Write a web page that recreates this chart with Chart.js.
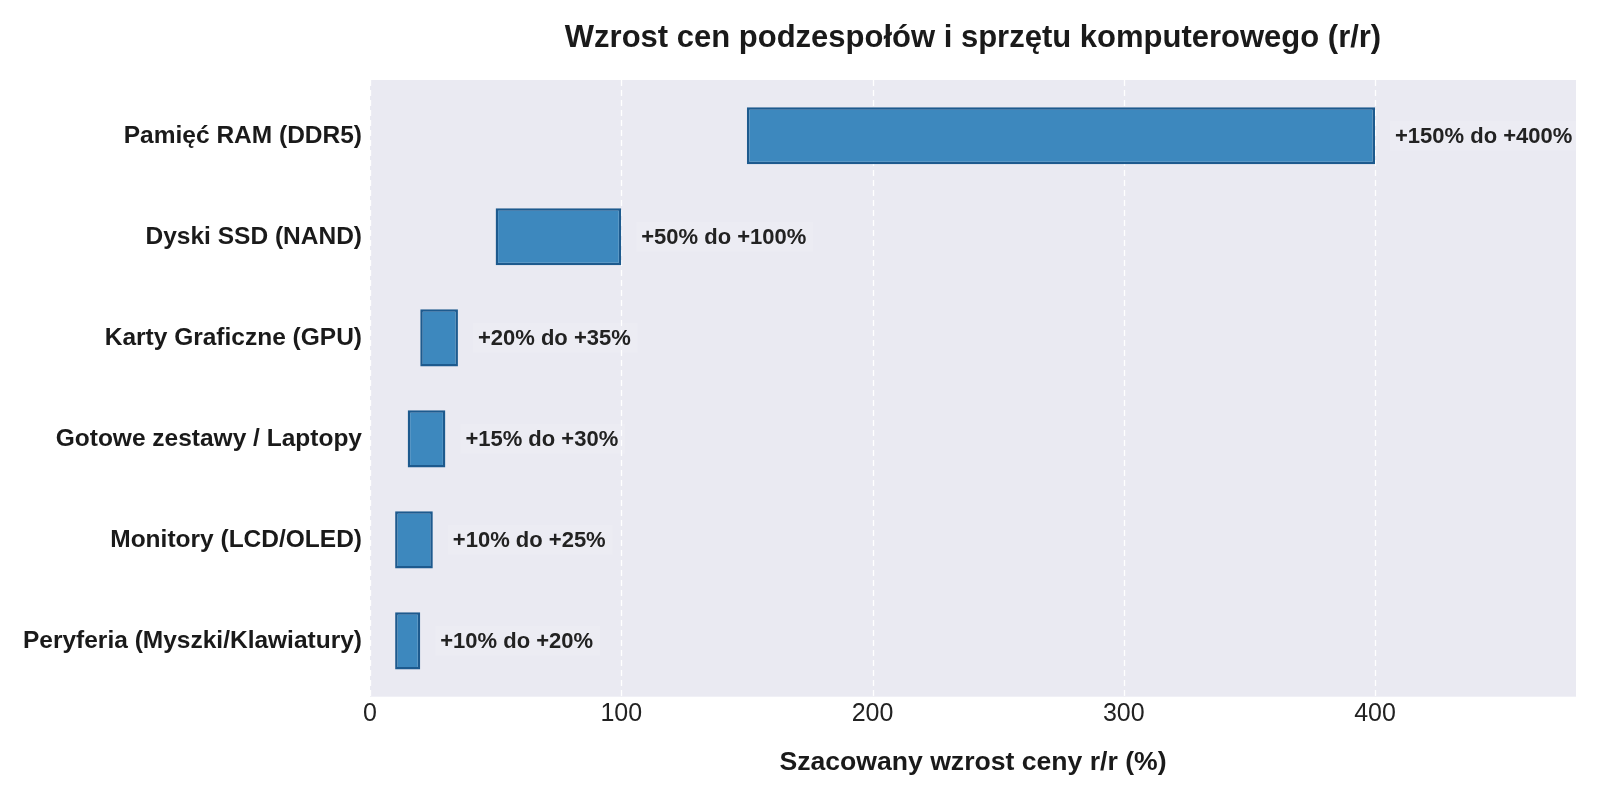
<!DOCTYPE html>
<html>
<head>
<meta charset="utf-8">
<script src="https://cdn.jsdelivr.net/npm/chart.js@4.4.0/dist/chart.umd.min.js"></script>
<style>
  html, body { margin: 0; padding: 0; background: #ffffff; }
  #wrap { width: 1600px; height: 800px; }
</style>
</head>
<body>
<div id="wrap"><canvas id="chart"></canvas></div>
<script>
// Dane z wykresu
const categories = [
  'Pamięć RAM (DDR5)',
  'Dyski SSD (NAND)',
  'Karty Graficzne (GPU)',
  'Gotowe zestawy / Laptopy',
  'Monitory (LCD/OLED)',
  'Peryferia (Myszki/Klawiatury)'
];
const minGrowth = [150, 50, 20, 15, 10, 10];
const maxGrowth = [400, 100, 35, 30, 25, 20];
const barLabels = [
  '+150% do +400%',
  '+50% do +100%',
  '+20% do +35%',
  '+15% do +30%',
  '+10% do +25%',
  '+10% do +20%'
];
const xTicks = [0, 100, 200, 300, 400];
const xMax = 480;

const FONT = '"Liberation Sans", Arial, sans-serif';
const PANEL_PAD = 5.3;   // margines tla ponad/ponizej kategorii
const LABEL_GAP = 20;    // odstep etykiety od konca slupka

// tlo panelu + przerywana siatka pionowa
const panelPlugin = {
  id: 'panel',
  beforeDatasetsDraw(chart) {
    const { ctx, chartArea: a, scales: { x } } = chart;
    const top = a.top - PANEL_PAD;
    const bottom = a.bottom + PANEL_PAD;
    ctx.save();
    ctx.fillStyle = '#eaeaf2';
    ctx.fillRect(a.left, top, a.right - a.left, bottom - top);
    ctx.strokeStyle = '#ffffff';
    ctx.lineWidth = 1.3;
    ctx.setLineDash([6, 4]);
    xTicks.forEach(v => {
      const px = Math.round(x.getPixelForValue(v)) + 0.5;
      ctx.beginPath();
      ctx.moveTo(px, top);
      ctx.lineTo(px, bottom);
      ctx.stroke();
    });
    ctx.restore();
  }
};

// etykiety zakresu przy koncu slupkow
const rangeLabelPlugin = {
  id: 'rangeLabels',
  afterDatasetsDraw(chart) {
    const { ctx } = chart;
    const meta = chart.getDatasetMeta(0);
    ctx.save();
    ctx.font = 'bold 22px ' + FONT;
    ctx.textBaseline = 'middle';
    ctx.textAlign = 'left';
    meta.data.forEach((bar, i) => {
      const x = Math.max(bar.x, bar.base) + LABEL_GAP;
      const w = ctx.measureText(barLabels[i]).width;
      ctx.fillStyle = 'rgba(255,255,255,0.1)';
      ctx.fillRect(x - 5, bar.y - 15, w + 12, 30);
      ctx.fillStyle = '#222222';
      ctx.fillText(barLabels[i], x, bar.y + 1);
    });
    ctx.restore();
  }
};

const ctx = document.getElementById('chart').getContext('2d');
new Chart(ctx, {
  type: 'bar',
  data: {
    labels: categories,
    datasets: [{
      data: categories.map((c, i) => [minGrowth[i], maxGrowth[i]]),
      backgroundColor: '#3d88be',
      borderColor: '#1d5a8e',
      borderWidth: 2.5,
      borderSkipped: false,
      barPercentage: 0.565,
      categoryPercentage: 1.0
    }]
  },
  options: {
    indexAxis: 'y',
    responsive: true,
    maintainAspectRatio: false,
    animation: false,
    layout: { padding: { left: 0, right: 24, top: 0, bottom: 0 } },
    plugins: {
      legend: { display: false },
      tooltip: { enabled: false },
      title: {
        display: true,
        fullSize: false,
        text: 'Wzrost cen podzespołów i sprzętu komputerowego (r/r)',
        color: '#1a1a1a',
        font: { family: FONT, size: 31, weight: 'bold' },
        padding: { top: 19.4, bottom: 28.7 }
      }
    },
    scales: {
      x: {
        type: 'linear',
        min: 0,
        max: xMax,
        grid: { display: false, drawTicks: false },
        border: { display: false },
        ticks: {
          stepSize: 100,
          includeBounds: false,
          padding: 8,
          color: '#222222',
          font: { family: FONT, size: 25 }
        },
        afterBuildTicks(scale) {
          scale.ticks = xTicks.map(v => ({ value: v }));
        },
        title: {
          display: true,
          text: 'Szacowany wzrost ceny r/r (%)',
          color: '#1a1a1a',
          font: { family: FONT, size: 26.6, weight: 'bold' },
          padding: { top: 0, bottom: 21.4 }
        },
        afterFit(scale) { scale.height = 108.6; }
      },
      y: {
        grid: { display: false, drawTicks: false },
        border: { display: false },
        ticks: {
          padding: 8,
          color: '#1a1a1a',
          font: { family: FONT, size: 24.5, weight: 'bold' }
        },
        afterFit(scale) { scale.width = 370; }
      }
    }
  },
  plugins: [panelPlugin, rangeLabelPlugin]
});
</script>
</body>
</html>
